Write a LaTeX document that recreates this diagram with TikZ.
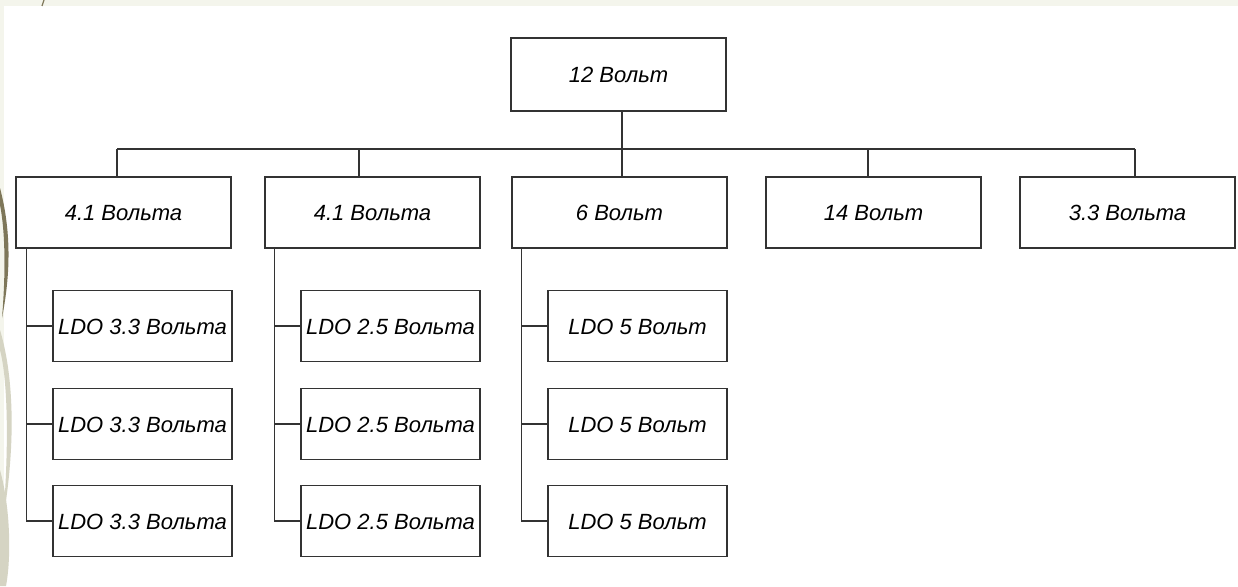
\documentclass[tikz,border=0pt]{standalone}
\usepackage{fontspec}
\setmainfont{Liberation Sans}
\usetikzlibrary{positioning}
\definecolor{cream}{HTML}{F4F5EC}
\definecolor{olive}{HTML}{7E7759}
\definecolor{palegrey}{HTML}{D5D4C3}
\definecolor{wirecol}{HTML}{333333}

\begin{document}
\begin{tikzpicture}[x=1pt, y=-1pt,
  box/.style={draw=wirecol, line width=1.4pt, fill=white, minimum width=215pt,
    minimum height=71pt, inner sep=0pt, text height=16pt, text depth=0pt,
    font=\itshape\fontsize{22}{26}\selectfont},
  ldo/.style={box, minimum width=179pt},
  link/.style={draw=wirecol, line width=1.4pt}]

\useasboundingbox (0,0) rectangle (1238,586);

% slide background with the swoosh on the left
\fill[cream] (0,0) rectangle (1238,586);
\fill[white] (4,6) rectangle (1238,586);
\fill[olive] (0,188) .. controls (11,230) and (11,272) .. (2,318) .. controls (6,270) and (5,230) .. (0,205) -- cycle;
\fill[palegrey] (0,330) .. controls (15,380) and (15,450) .. (3,520) .. controls (9,450) and (8,380) .. (0,350) -- cycle;
\fill[palegrey] (0,470) .. controls (11,510) and (11,560) .. (6,586) -- (0,586) -- cycle;
\draw[olive, line width=1.2pt] (44,0) -- (42,6);

% source and first stage
\node[box, minimum height=73pt] (V12) at (618.5,74.5) {12 Вольт};
\node[box] (A) at (123.5,212.5) {4.1 Вольта};
\node[box] (B) at (372.5,212.5) {4.1 Вольта};
\node[box] (C) at (619.5,212.5) {6 Вольт};
\node[box] (D) at (873.5,212.5) {14 Вольт};
\node[box] (E) at (1127.5,212.5) {3.3 Вольта};

% LDO stages
\node[ldo] (A1) at (142.5,326) {LDO 3.3 Вольта};
\node[ldo] (A2) at (142.5,424) {LDO 3.3 Вольта};
\node[ldo] (A3) at (142.5,521) {LDO 3.3 Вольта};
\node[ldo] (B1) at (390.5,326) {LDO 2.5 Вольта};
\node[ldo] (B2) at (390.5,424) {LDO 2.5 Вольта};
\node[ldo] (B3) at (390.5,521) {LDO 2.5 Вольта};
\node[ldo] (C1) at (637.5,326) {LDO 5 Вольт};
\node[ldo] (C2) at (637.5,424) {LDO 5 Вольт};
\node[ldo] (C3) at (637.5,521) {LDO 5 Вольт};

% bus
\coordinate (bA) at (117,149);
\coordinate (bB) at (359,149);
\coordinate (bC) at (622,149);
\coordinate (bD) at (868,149);
\coordinate (bE) at (1135,149);

\draw[link] (bA) -- (bE);
\draw[link] (bC |- V12.south) -- (bC);
\draw[link] (bA) -- (bA |- A.north);
\draw[link] (bB) -- (bB |- B.north);
\draw[link] (bC) -- (bC |- C.north);
\draw[link] (bD) -- (bD |- D.north);
\draw[link] (bE) -- (bE |- E.north);

% trunks down to the LDOs
\coordinate (tA) at ([xshift=11pt]A.south west);
\coordinate (tB) at ([xshift=10pt]B.south west);
\coordinate (tC) at ([xshift=10pt]C.south west);

\draw[link] (tA) |- (A3.west);
\draw[link] (tA |- A1.west) -- (A1.west);
\draw[link] (tA |- A2.west) -- (A2.west);
\draw[link] (tB) |- (B3.west);
\draw[link] (tB |- B1.west) -- (B1.west);
\draw[link] (tB |- B2.west) -- (B2.west);
\draw[link] (tC) |- (C3.west);
\draw[link] (tC |- C1.west) -- (C1.west);
\draw[link] (tC |- C2.west) -- (C2.west);

\end{tikzpicture}
\end{document}
